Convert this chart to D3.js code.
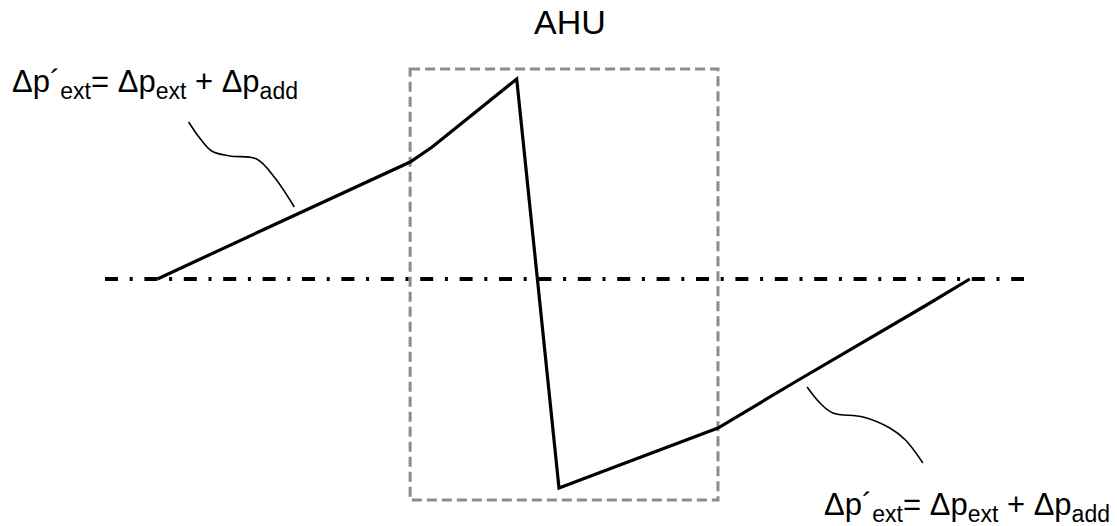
<!DOCTYPE html>
<html>
<head>
<meta charset="utf-8">
<script src="https://cdn.jsdelivr.net/npm/d3@7"></script>
<style>
body { margin: 0; background: #fff; }
svg { display: block; font-family: "Liberation Sans", Arial, sans-serif; }
</style>
</head>
<body>
<svg id="chart" width="1117" height="526"></svg>
<script>
// position along the air path (0..100) and pressure relative to ambient
const pathPos      = [5.7, 17.4, 33.2, 35.6, 44.8, 49.4, 56.6, 66.7, 74.9, 89.4, 94.1];
const pathPressure = [0, 50, 117, 132, 200, -209, -184, -149, -104, -26, 0];

// AHU box and zero line extents
const boxPos = [33.2, 66.7];
const boxPressure = [210, -221];
const zeroExtent = [0, 100];

// leader lines from labels to the curve
const leaderTopPos = [9.1, 10.3, 11.6, 13.6, 16.5, 18.5, 20.6];
const leaderTopP   = [157, 141, 128, 123, 120, 101, 72];
const leaderBotPos = [76.4, 77.8, 79.2, 82.5, 85.4, 87.1, 89.0];
const leaderBotP   = [-108, -124, -134, -138, -149, -161, -184];

const title = "AHU";

const svg = d3.select("#chart");

const x = d3.scaleLinear().domain([0, 100]).range([105, 1024]);
const y = d3.scaleLinear().domain([0, 200]).range([279, 79]);

// AHU box
svg.append("rect")
	.attr("x", x(boxPos[0]))
	.attr("y", y(boxPressure[0]))
	.attr("width", x(boxPos[1]) - x(boxPos[0]))
	.attr("height", y(boxPressure[1]) - y(boxPressure[0]))
	.attr("fill", "none")
	.attr("stroke", "#8c8c8c")
	.attr("stroke-width", 3)
	.attr("stroke-dasharray", "10,5");

// zero pressure line
svg.append("line")
	.attr("x1", x(zeroExtent[0]))
	.attr("x2", x(zeroExtent[1]))
	.attr("y1", y(0))
	.attr("y2", y(0))
	.attr("stroke", "#000")
	.attr("stroke-width", 4)
	.attr("stroke-dasharray", "13,11.7,3,11.7");

// pressure curve
const pts = pathPos.map((p, i) => [x(p), y(pathPressure[i])]);
svg.append("path")
	.attr("d", d3.line()(pts))
	.attr("fill", "none")
	.attr("stroke", "#000")
	.attr("stroke-width", 3.2)
	.attr("stroke-linejoin", "miter");

// leaders
const leader = d3.line().curve(d3.curveCatmullRom.alpha(0.5));
[[leaderTopPos, leaderTopP], [leaderBotPos, leaderBotP]].forEach(([px, pp]) =>
{
	svg.append("path")
		.attr("d", leader(px.map((v, i) => [x(v), y(pp[i])])))
		.attr("fill", "none")
		.attr("stroke", "#000")
		.attr("stroke-width", 1.6);
});

// title
svg.append("text")
	.attr("x", 570)
	.attr("y", 34)
	.attr("text-anchor", "middle")
	.attr("font-size", 34)
	.text(title);

// formula labels
function formula(tx, ty)
{
	const t = svg.append("text").attr("x", tx).attr("y", ty).attr("font-size", 31);
	const parts = [
		["Δp´", 0, 31], ["ext", 7, 23], ["= Δp", -7, 31], ["ext", 7, 23],
		[" + Δp", -7, 31], ["add", 7, 23]
	];
	parts.forEach(([s, dy, fs]) =>
	{
		t.append("tspan").attr("dy", dy).attr("font-size", fs).text(s);
	});
	t.style("white-space", "pre");
}
formula(12, 92);
formula(824, 515);
</script>
</body>
</html>
